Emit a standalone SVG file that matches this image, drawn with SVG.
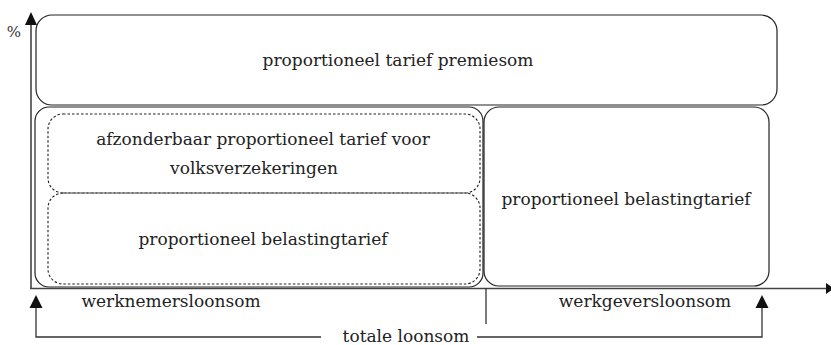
<svg xmlns="http://www.w3.org/2000/svg" width="831" height="345" viewBox="0 0 831 345">
<style>
.box{fill:#fff;stroke:#222;stroke-width:1.2}
.dash{fill:none;stroke:#222;stroke-width:1.1;stroke-dasharray:2.5 2}
.ln{fill:none;stroke:#333;stroke-width:1.3}
.ax{fill:none;stroke:#444;stroke-width:1.6}
.t{font-family:"DejaVu Serif",serif;font-size:17px;fill:#222;text-anchor:middle}
</style>
<rect width="831" height="345" fill="#fff"/>
<g id="node-premiesom">
<rect class="box" x="36" y="15" width="741" height="90" rx="16"/>
<text class="t" x="398" y="66">proportioneel tarief premiesom</text>
</g>
<g id="node-werknemer">
<rect class="box" x="35" y="107" width="448" height="180" rx="14"/>
</g>
<g id="node-volks">
<rect class="dash" x="48" y="114" width="432" height="79" rx="15"/>
<text class="t" x="263" y="145">afzonderbaar proportioneel tarief voor</text>
<text class="t" x="254" y="174">volksverzekeringen</text>
</g>
<g id="node-belasting-links">
<rect class="dash" x="48" y="193" width="432" height="91" rx="15"/>
<text class="t" x="263" y="245">proportioneel belastingtarief</text>
</g>
<g id="node-belasting-rechts">
<rect class="box" x="484" y="107" width="285" height="179" rx="15"/>
<text class="t" x="626" y="205">proportioneel belastingtarief</text>
</g>
<g id="connectors">
<line class="ax" x1="31" y1="289" x2="31" y2="24"/>
<polygon points="31,12 25,25 37,25" fill="#111"/>
<line class="ax" x1="30" y1="288.5" x2="826" y2="288.5"/>
<polygon points="834,288.5 826,283 826,294" fill="#111"/>
<line class="ln" x1="486" y1="288" x2="486" y2="324"/>
<polyline class="ln" points="321,337 36,337 36,306"/>
<polygon points="36,295 29.5,308 42.5,308" fill="#111"/>
<polyline class="ln" points="477,337 762,337 762,306"/>
<polygon points="762,295 755.5,308 768.5,308" fill="#111"/>
</g>
<g id="labels">
<text x="14" y="37" style="font-family:'DejaVu Serif',serif;font-size:15px;fill:#333;text-anchor:middle">%</text>
<text class="t" x="171" y="307">werknemersloonsom</text>
<text class="t" x="645" y="307">werkgeversloonsom</text>
<text class="t" x="406" y="342">totale loonsom</text>
</g>
</svg>
